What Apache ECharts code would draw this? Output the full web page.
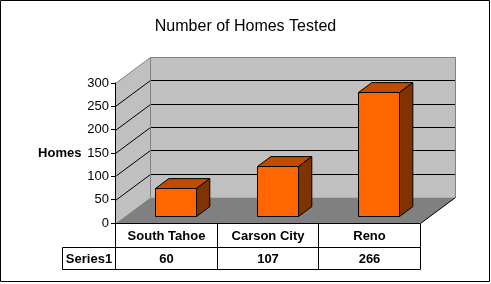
<!DOCTYPE html>
<html>
<head>
<meta charset="utf-8">
<script src="https://cdn.jsdelivr.net/npm/echarts@6/dist/echarts.min.js"></script>
<style>
  html, body { margin: 0; padding: 0; background: #fff; }
  #chart { width: 491px; height: 284px; }
</style>
</head>
<body>
<div id="chart"></div>
<script>
// ---- data ----
const chartTitle = 'Number of Homes Tested';
const categories = ['South Tahoe', 'Carson City', 'Reno'];
const homesTested = [60, 107, 266];
const seriesName = 'Series1';
const yAxisName = 'Homes';
const yTicks = [0, 50, 100, 150, 200, 250, 300];

// ---- style constants ----
const FONT = '"Liberation Sans", Arial, sans-serif';
const DX = 35, DY = -26;          // wall depth offset
const F1 = 0.28, F2 = 0.66;       // bar depth fractions
const ROW1 = 24, ROW2 = 22, HEAD_W = 53;

const chart = echarts.init(document.getElementById('chart'), null, { renderer: 'canvas' });

function wallsRender(params, api) {
  const cs = params.coordSys;
  const L = Math.round(cs.x) + 0.5, R = Math.round(cs.x + cs.width) + 0.5;
  const yMax = yTicks[yTicks.length - 1];
  const T = Math.round(api.coord([0, yMax])[1]) + 0.5;
  const B = Math.round(api.coord([0, 0])[1]) + 0.5;
  const children = [];
  children.push({ type: 'polygon', shape: { points: [[L, B], [L, T], [L + DX, T + DY], [L + DX, B + DY]] }, style: { fill: '#c0c0c0' } });
  children.push({ type: 'rect', shape: { x: L + DX, y: T + DY, width: R - L, height: B - T }, style: { fill: '#c0c0c0' } });
  yTicks.forEach(t => {
    if (t <= 0 || t >= yMax) return;
    const y = Math.round(api.coord([0, t])[1]) + 0.5;
    children.push({ type: 'polyline', shape: { points: [[L, y], [L + DX, y + DY], [R + DX, y + DY]] }, style: { stroke: '#000', lineWidth: 1, fill: null } });
  });
  children.push({ type: 'polygon', shape: { points: [[L, B], [R, B], [R + DX, B + DY], [L + DX, B + DY]] }, style: { fill: '#808080' } });
  children.push({ type: 'polyline', shape: { points: [[L, T], [L + DX, T + DY], [R + DX, T + DY], [R + DX, B + DY]] }, style: { stroke: '#808080', lineWidth: 1, fill: null } });
  children.push({ type: 'line', shape: { x1: L + DX, y1: T + DY, x2: L + DX, y2: B + DY }, style: { stroke: '#808080', lineWidth: 1 } });
  children.push({ type: 'line', shape: { x1: R, y1: B, x2: R + DX, y2: B + DY }, style: { stroke: '#000', lineWidth: 1 } });
  return { type: 'group', children };
}

function barRender(params, api) {
  const i = api.value(0);
  const p = api.coord([i, api.value(1)]);
  const p0 = api.coord([i, 0]);
  const band = api.size([1, 0])[0];
  const w = Math.round(band * 0.40);
  const d1x = DX * F1, d1y = DY * F1;
  const bx = DX * (F2 - F1), by = DY * (F2 - F1);
  const x0 = Math.round(p[0] - w / 2 + d1x) + 0.5, x1 = x0 + w;
  const yt = Math.round(p[1] + d1y) + 0.5, yb = Math.round(p0[1] + d1y) + 0.5;
  const st = { stroke: '#000', lineWidth: 1, lineJoin: 'miter' };
  return {
    type: 'group',
    children: [
      { type: 'polygon', shape: { points: [[x0, yt], [x1, yt], [x1 + bx, yt + by], [x0 + bx, yt + by]] }, style: Object.assign({ fill: '#c04c00' }, st) },
      { type: 'polygon', shape: { points: [[x1, yt], [x1 + bx, yt + by], [x1 + bx, yb + by], [x1, yb]] }, style: Object.assign({ fill: '#803300' }, st) },
      { type: 'rect', shape: { x: x0, y: yt, width: w, height: yb - yt }, style: Object.assign({ fill: '#ff6600' }, st) }
    ]
  };
}

function tableRender(params, api) {
  const i = api.value(0);
  const c = api.coord([i, 0]);
  const band = api.size([1, 0])[0];
  const xl = Math.round(c[0] - band / 2) + 0.5;
  const xr = Math.round(c[0] + band / 2) + 0.5;
  const B = Math.round(c[1]) + 0.5;
  const cx = (xl + xr) / 2;
  const cell = { fill: '#fff', stroke: '#000', lineWidth: 1 };
  const txt = { fill: '#000', font: 'bold 13px ' + FONT, align: 'center', verticalAlign: 'middle' };
  const children = [
    { type: 'rect', shape: { x: xl, y: B, width: xr - xl, height: ROW1 }, style: cell },
    { type: 'rect', shape: { x: xl, y: B + ROW1, width: xr - xl, height: ROW2 }, style: cell },
    { type: 'text', style: Object.assign({ text: categories[i], x: cx, y: B + ROW1 / 2 + 0.5 }, txt) },
    { type: 'text', style: Object.assign({ text: String(api.value(1)), x: cx, y: B + ROW1 + ROW2 / 2 + 0.5 }, txt) }
  ];
  if (i === 0) {
    children.push({ type: 'rect', shape: { x: xl - HEAD_W, y: B + ROW1, width: HEAD_W, height: ROW2 }, style: cell });
    children.push({ type: 'text', style: Object.assign({ text: seriesName, x: xl - HEAD_W / 2, y: B + ROW1 + ROW2 / 2 + 0.5 }, txt) });
  }
  return { type: 'group', children };
}

const option = {
  backgroundColor: '#fff',
  animation: false,
  title: {
    text: chartTitle, left: 'center', top: 14,
    textStyle: { fontFamily: FONT, fontSize: 16, fontWeight: 'normal', color: '#000' }
  },
  graphic: [{
    type: 'rect', shape: { x: 0.5, y: 0.5, width: 489, height: 281 },
    style: { fill: null, stroke: '#000', lineWidth: 1 }, z: 100
  }],
  grid: { left: 115, top: 83, width: 305, height: 140, containLabel: false },
  xAxis: {
    type: 'category', data: categories,
    axisLine: { show: false }, axisTick: { show: false }, axisLabel: { show: false }, splitLine: { show: false }
  },
  yAxis: {
    type: 'value', min: 0, max: 300, interval: 50, z: 10,
    name: yAxisName, nameLocation: 'middle', nameRotate: 0, nameGap: 33,
    nameTextStyle: { fontFamily: FONT, fontSize: 13, fontWeight: 'bold', color: '#000', align: 'right' },
    axisLine: { show: true, lineStyle: { color: '#000', width: 1 } },
    axisTick: { show: true, length: 4, lineStyle: { color: '#000' } },
    axisLabel: { fontFamily: FONT, fontSize: 13, color: '#000', margin: 6 },
    splitLine: { show: false }
  },
  series: [
    { type: 'custom', name: 'walls', renderItem: wallsRender, data: [[0, 0]], silent: true, z: 1 },
    { type: 'custom', name: seriesName, renderItem: barRender, data: homesTested.map((v, i) => [i, v]), z: 3 },
    { type: 'custom', name: 'table', renderItem: tableRender, data: homesTested.map((v, i) => [i, v]), silent: true, z: 4 }
  ]
};
chart.setOption(option);
</script>
</body>
</html>
